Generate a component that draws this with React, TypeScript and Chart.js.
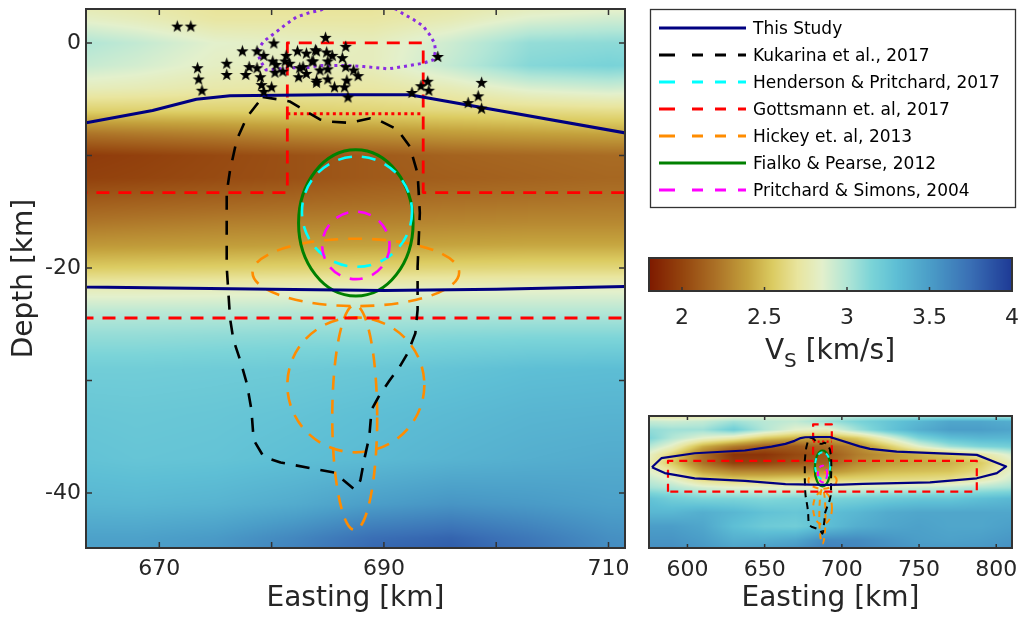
import React, { useEffect, useRef } from 'react';
import { Chart, registerables } from 'chart.js';

Chart.register(...registerables);

const FONT = '"DejaVu Sans", "Liberation Sans", sans-serif';
const TEXT = '#262626';
const FRAME = '#333333';

// ---------- axes ----------
const depthLimits = [-44.9, 3.02];
const mainEastingLimits = [663.47, 711.47];
const mainEastingTicks = [670, 680, 690, 700, 710];
const mainEastingLabels = [670, 690, 710];
const mainDepthTicks = [0, -10, -20, -30, -40];
const mainDepthLabels = [0, -20, -40];
const insetEastingLimits = [575.1, 810.2];
const insetEastingTicks = [600, 650, 700, 750, 800];
const vsLimits = [1.8, 4.0];
const vsTicks = [2, 2.5, 3, 3.5, 4];

// ---------- Vs colour scale (km/s) ----------
const vsStops = [1.8, 2.0, 2.2, 2.4, 2.55, 2.7, 2.85, 3.0, 3.15, 3.3, 3.5, 3.75, 4.0];
const vsColors = ['#7e1a00', '#94440e', '#ab7026', '#c4a23d', '#dccc62', '#e9e59e', '#e3f0cc',
  '#b2e6d6', '#7bd4d8', '#5ebfd5', '#4b9ec8', '#3a6fb5', '#1e3a96'];

// ---------- Vs model, zoomed section (rows = depth, cols = easting) ----------
const mainVsEastings = [662, 668, 675, 682, 689, 696, 703, 710, 713];
const mainVsDepths = [4, 2, 0, -2, -4, -6, -8, -10, -12, -14, -16, -18, -20, -22, -24, -26, -29, -33, -37, -41, -44, -47];
const mainVs = [
  [2.72, 2.70, 2.66, 2.66, 2.66, 2.68, 2.72, 2.75, 2.75],
  [2.85, 2.80, 2.72, 2.72, 2.72, 2.78, 2.88, 2.92, 2.92],
  [3.02, 2.95, 2.85, 2.82, 2.80, 2.92, 3.08, 3.10, 3.10],
  [2.95, 2.90, 2.82, 2.80, 2.80, 2.95, 3.12, 3.16, 3.14],
  [2.80, 2.78, 2.74, 2.72, 2.72, 2.78, 2.88, 2.92, 2.90],
  [2.58, 2.58, 2.58, 2.58, 2.60, 2.62, 2.64, 2.66, 2.66],
  [2.22, 2.25, 2.28, 2.32, 2.35, 2.38, 2.40, 2.42, 2.42],
  [1.95, 1.98, 2.02, 2.06, 2.10, 2.14, 2.16, 2.18, 2.18],
  [1.98, 2.00, 2.03, 2.06, 2.10, 2.12, 2.14, 2.16, 2.16],
  [2.10, 2.12, 2.14, 2.16, 2.18, 2.20, 2.21, 2.22, 2.22],
  [2.22, 2.24, 2.26, 2.27, 2.28, 2.29, 2.30, 2.30, 2.30],
  [2.36, 2.37, 2.38, 2.39, 2.40, 2.41, 2.42, 2.42, 2.42],
  [2.55, 2.56, 2.57, 2.58, 2.59, 2.60, 2.61, 2.61, 2.61],
  [2.80, 2.80, 2.81, 2.82, 2.83, 2.84, 2.84, 2.84, 2.84],
  [2.98, 2.98, 2.98, 2.99, 3.00, 3.00, 3.00, 3.00, 3.00],
  [3.08, 3.08, 3.09, 3.10, 3.10, 3.12, 3.13, 3.13, 3.13],
  [3.20, 3.20, 3.21, 3.22, 3.24, 3.27, 3.30, 3.31, 3.31],
  [3.25, 3.24, 3.25, 3.27, 3.30, 3.33, 3.36, 3.37, 3.37],
  [3.28, 3.26, 3.27, 3.30, 3.33, 3.37, 3.40, 3.42, 3.42],
  [3.36, 3.35, 3.37, 3.42, 3.50, 3.55, 3.52, 3.48, 3.48],
  [3.48, 3.48, 3.52, 3.62, 3.75, 3.80, 3.70, 3.58, 3.56],
  [3.52, 3.52, 3.58, 3.70, 3.85, 3.90, 3.78, 3.62, 3.60],
];

// ---------- Vs model, regional section ----------
const insetVsEastings = [570, 590, 610, 630, 650, 670, 690, 710, 730, 750, 770, 790, 815];
const insetVsDepths = [4, 1, -2, -5, -8, -11, -14, -17, -20, -23, -27, -32, -37, -42, -47];
const insetVs = [
  [2.62, 2.62, 2.64, 2.70, 2.78, 2.82, 2.86, 2.88, 2.85, 2.80, 2.78, 2.76, 2.76],
  [2.95, 2.92, 2.95, 3.05, 2.98, 2.95, 3.05, 3.15, 3.25, 3.35, 3.45, 3.45, 3.40],
  [3.10, 3.05, 3.05, 3.20, 3.00, 2.85, 2.80, 3.05, 3.25, 3.40, 3.50, 3.50, 3.45],
  [3.20, 3.00, 2.85, 2.75, 2.55, 2.45, 2.40, 2.55, 2.85, 3.15, 3.30, 3.35, 3.35],
  [3.05, 2.82, 2.45, 2.25, 2.12, 2.10, 2.18, 2.30, 2.55, 2.85, 3.05, 3.15, 3.20],
  [2.90, 2.60, 2.20, 1.92, 1.92, 2.02, 2.08, 2.25, 2.35, 2.45, 2.55, 2.70, 2.95],
  [2.85, 2.55, 2.20, 1.98, 2.00, 2.08, 2.12, 2.30, 2.38, 2.42, 2.45, 2.55, 2.85],
  [2.90, 2.70, 2.40, 2.28, 2.28, 2.30, 2.32, 2.42, 2.48, 2.50, 2.52, 2.62, 2.90],
  [2.98, 2.85, 2.62, 2.55, 2.55, 2.58, 2.58, 2.60, 2.62, 2.64, 2.66, 2.75, 2.95],
  [3.05, 3.00, 2.90, 2.85, 2.85, 2.85, 2.85, 2.88, 2.90, 2.92, 2.95, 3.00, 3.05],
  [3.30, 3.20, 3.15, 3.15, 3.12, 3.15, 3.15, 3.18, 3.22, 3.25, 3.25, 3.30, 3.35],
  [3.35, 3.35, 3.40, 3.35, 3.28, 3.25, 3.30, 3.35, 3.42, 3.45, 3.45, 3.45, 3.45],
  [3.50, 3.50, 3.45, 3.30, 3.22, 3.20, 3.30, 3.40, 3.45, 3.48, 3.45, 3.45, 3.50],
  [3.55, 3.55, 3.50, 3.40, 3.40, 3.45, 3.60, 3.60, 3.55, 3.50, 3.48, 3.50, 3.55],
  [3.60, 3.60, 3.55, 3.50, 3.55, 3.60, 3.70, 3.65, 3.60, 3.55, 3.55, 3.55, 3.60],
];

// ---------- outlines: [easting km, depth km] ----------
const thisStudyOutline: number[][] = [
  [577.0, -15.6], [583.1, -12.3], [604.7, -10.5], [637.2, -9.5], [654.5, -8.1], [663.5, -7.1],
  [669.4, -6.0], [673.3, -5.0], [676.3, -4.7], [685.0, -4.6], [692.3, -4.6], [711.5, -8.0],
  [718.2, -8.9], [735.5, -9.9], [787.4, -11.1], [806.4, -15.3], [800.4, -17.7], [787.4, -19.6],
  [757.1, -21.1], [713.8, -21.6], [700.0, -21.9], [690.0, -22.0], [680.0, -21.9], [663.5, -21.7],
  [637.2, -20.5], [604.7, -19.6], [585.3, -17.7], [577.0, -15.6],
];

const kukarinaOutline: number[][] = [
  [679.2, -4.8], [680.5, -5.0], [681.6, -5.2], [684.3, -6.8], [685.2, -7.0], [687.0, -7.1],
  [688.8, -6.7], [689.6, -6.9], [691.2, -7.7], [692.3, -9.2], [693.0, -11.6], [693.2, -15.1],
  [693.0, -19.9], [693.0, -23.7], [692.8, -25.8], [692.1, -27.6], [691.4, -28.8], [690.5, -30.0],
  [689.5, -31.5], [688.9, -32.6], [688.7, -35.0], [688.3, -36.8], [687.9, -38.9], [687.4, -39.7],
  [685.6, -38.2], [680.8, -37.3], [679.3, -36.8], [678.4, -35.3], [678.2, -32.6], [677.8, -30.3],
  [677.2, -28.2], [676.6, -26.4], [676.3, -24.5], [676.0, -19.9], [676.0, -13.3], [676.3, -11.3],
  [676.9, -8.6], [677.8, -6.6], [679.2, -4.8],
];

const gottsmannOutline: number[][] = [
  [587.4, -24.45], [587.4, -13.3], [681.4, -13.3], [681.4, 0], [693.5, 0],
  [693.5, -13.3], [787.4, -13.3], [787.4, -24.45], [587.4, -24.45],
];
const gottsmannInnerBound: number[][] = [[681.4, -6.3], [693.5, -6.3]];

const swarmOutline: number[][] = [
  [678.7, -0.7], [679.3, 0.15], [680.3, 0.9], [681.2, 1.6], [682.2, 2.3], [683.4, 2.7],
  [684.3, 2.9], [685.5, 3.4], [687.5, 3.7], [689.5, 3.5], [691.1, 3.0], [691.7, 2.6],
  [692.6, 2.1], [693.5, 1.5], [694.1, 0.7], [694.5, 0.0], [694.6, -0.7], [694.4, -1.5],
  [693.5, -1.8], [692.3, -2.0], [691.1, -2.2], [690.4, -2.3], [689.3, -2.2], [688.2, -2.1],
  [686.7, -2.0], [684.3, -2.0], [683.1, -2.2], [681.9, -2.2], [680.7, -2.3], [679.5, -2.4],
  [679.0, -1.6], [678.7, -0.7],
];

// ---------- earthquake hypocentres ----------
const earthquakes: number[][] = [
  [671.6, 1.5], [672.8, 1.5], [673.4, -2.2], [673.5, -3.2], [673.8, -4.2], [676.0, -1.8],
  [676.0, -2.8], [677.4, -0.7], [678.0, -2.1], [677.7, -2.8], [678.7, -0.7], [678.7, -2.2],
  [679.0, -3.0], [679.1, -3.7], [679.3, -4.3], [680.0, -3.9], [680.2, 0.0], [679.3, -1.1],
  [680.1, -1.6], [680.4, -1.9], [680.3, -2.6], [681.0, -2.5], [681.3, -1.1], [681.2, -1.6],
  [681.6, -1.8], [682.3, -0.7], [683.1, -0.9], [683.9, -0.6], [682.5, -2.2], [683.1, -2.7],
  [682.4, -3.0], [683.7, -1.6], [684.0, -3.3], [684.8, 0.5], [686.6, -0.3], [684.0, -0.7],
  [684.9, -0.8], [685.4, -1.1], [683.6, -1.6], [685.0, -1.6], [686.3, -1.3], [682.8, -2.1],
  [684.3, -2.4], [685.0, -2.3], [686.6, -2.1], [687.3, -2.4], [687.7, -2.9], [684.0, -3.5],
  [685.0, -3.2], [685.6, -3.9], [686.7, -3.3], [686.5, -3.9], [686.8, -4.8], [694.8, -1.2],
  [692.5, -4.4], [693.3, -3.8], [693.9, -3.4], [694.0, -4.2], [698.7, -3.5], [698.4, -4.7],
  [697.5, -5.3], [698.7, -5.8],
];

// ---------- source bodies: [easting centre, depth centre, half-width, half-height] km ----------
const hendersonEllipse = [687.6, -15.0, 4.9, 4.9];
const fialkoEllipse = [687.5, -16.0, 5.1, 6.5];
const pritchardEllipse = [687.5, -18.0, 3.0, 3.0];
const hickeyEllipses = [
  [687.5, -20.4, 9.2, 3.0],
  [687.5, -30.4, 6.1, 6.0],
  [687.4, -33.3, 2.0, 10.0],
];

const seriesNames = [
  'This Study',
  'Kukarina et al., 2017',
  'Henderson & Pritchard, 2017',
  'Gottsmann et. al, 2017',
  'Hickey et. al, 2013',
  'Fialko & Pearse, 2012',
  'Pritchard & Simons, 2004',
];

const NAVY = '#000080';
const RED = '#ff0000';
const ORANGE = '#ff8c00';
const GREEN = '#008000';
const CYAN = '#00ffff';
const MAGENTA = '#ff00ff';
const PURPLE = '#8a2be2';
const LEGEND_DASH = '16 17 11 12 11 12 8';
const legendStyles = [
  { color: NAVY, dash: '' },
  { color: '#000000', dash: LEGEND_DASH },
  { color: CYAN, dash: LEGEND_DASH },
  { color: RED, dash: LEGEND_DASH },
  { color: ORANGE, dash: LEGEND_DASH },
  { color: GREEN, dash: '' },
  { color: MAGENTA, dash: LEGEND_DASH },
];

// ---------- helpers ----------
const vsRgb = vsColors.map((h) => {
  const n = parseInt(h.slice(1), 16);
  return [(n >> 16) & 255, (n >> 8) & 255, n & 255];
});

function vsColor(v: number): number[] {
  if (v <= vsStops[0]) return vsRgb[0];
  for (let i = 0; i < vsStops.length - 1; i++) {
    if (v <= vsStops[i + 1]) {
      const t = (v - vsStops[i]) / (vsStops[i + 1] - vsStops[i]);
      const a = vsRgb[i], b = vsRgb[i + 1];
      return [a[0] + (b[0] - a[0]) * t, a[1] + (b[1] - a[1]) * t, a[2] + (b[2] - a[2]) * t];
    }
  }
  return vsRgb[vsRgb.length - 1];
}

function locate(axis: number[], v: number): [number, number] {
  const n = axis.length;
  const asc = axis[n - 1] > axis[0];
  for (let i = 0; i < n - 1; i++) {
    const a = axis[i], b = axis[i + 1];
    if (asc ? v <= b : v >= b) {
      const t = (v - a) / (b - a);
      return [i, Math.min(1, Math.max(0, t))];
    }
  }
  return [n - 2, 1];
}

function makeStar(): HTMLCanvasElement {
  const size = 15;
  const c = document.createElement('canvas');
  c.width = size;
  c.height = size;
  const g = c.getContext('2d')!;
  const R = 6.5, r = 2.6, cx = size / 2, cy = size / 2 + 0.6;
  g.fillStyle = '#000';
  g.beginPath();
  for (let k = 0; k < 10; k++) {
    const ang = -Math.PI / 2 + (k * Math.PI) / 5;
    const rad = k % 2 === 0 ? R : r;
    const x = cx + rad * Math.cos(ang), y = cy + rad * Math.sin(ang);
    if (k === 0) g.moveTo(x, y); else g.lineTo(x, y);
  }
  g.closePath();
  g.fill();
  return c;
}

function outline(label: string, pts: number[][], color: string, width: number, dash: number[], order: number) {
  return {
    label,
    data: pts.map(([x, y]) => ({ x, y })),
    showLine: true,
    borderColor: color,
    backgroundColor: color,
    borderWidth: width,
    borderDash: dash,
    borderCapStyle: 'butt',
    borderJoinStyle: 'round',
    pointRadius: 0,
    fill: false,
    tension: 0,
    order,
  };
}

// Smooth Vs field painted under the datasets
function fieldPlugin(eastings: number[], depths: number[], grid: number[][]) {
  return {
    id: 'vsField',
    beforeDatasetsDraw(chart: any) {
      const { ctx, chartArea: a, scales } = chart;
      const w = Math.round(a.right - a.left), h = Math.round(a.bottom - a.top);
      const off = document.createElement('canvas');
      off.width = w;
      off.height = h;
      const octx = off.getContext('2d')!;
      const img = octx.createImageData(w, h);
      const cols = [];
      for (let px = 0; px < w; px++) cols.push(locate(eastings, scales.x.getValueForPixel(a.left + px + 0.5)));
      for (let py = 0; py < h; py++) {
        const [j, ty] = locate(depths, scales.y.getValueForPixel(a.top + py + 0.5));
        const r0 = grid[j], r1 = grid[j + 1];
        for (let px = 0; px < w; px++) {
          const [i, tx] = cols[px];
          const top = r0[i] * (1 - tx) + r0[i + 1] * tx;
          const bot = r1[i] * (1 - tx) + r1[i + 1] * tx;
          const c = vsColor(top * (1 - ty) + bot * ty);
          const k = (py * w + px) * 4;
          img.data[k] = c[0];
          img.data[k + 1] = c[1];
          img.data[k + 2] = c[2];
          img.data[k + 3] = 255;
        }
      }
      octx.putImageData(img, 0, 0);
      ctx.drawImage(off, a.left, a.top);
    },
  };
}

// Elliptical source bodies, placed with the chart's scales
function ellipsePlugin(shapes: { e: number[]; color: string; width: number; dash: number[] }[]) {
  return {
    id: 'sourceEllipses',
    beforeDatasetsDraw(chart: any) {
      const { ctx, chartArea: a, scales } = chart;
      ctx.save();
      ctx.beginPath();
      ctx.rect(a.left, a.top, a.right - a.left, a.bottom - a.top);
      ctx.clip();
      for (const s of shapes) {
        const [cx, cy, rx, ry] = s.e;
        const px = scales.x.getPixelForValue(cx);
        const py = scales.y.getPixelForValue(cy);
        const prx = Math.abs(scales.x.getPixelForValue(cx + rx) - px);
        const pry = Math.abs(scales.y.getPixelForValue(cy + ry) - py);
        ctx.beginPath();
        ctx.ellipse(px, py, prx, pry, 0, 0, Math.PI * 2);
        ctx.strokeStyle = s.color;
        ctx.lineWidth = s.width;
        ctx.setLineDash(s.dash);
        ctx.lineCap = 'butt';
        ctx.stroke();
      }
      ctx.restore();
    },
  };
}

// Box frame with inward tick marks
function framePlugin(o: { xTicks: number[]; yTicks: number[]; xSides: string[]; ySides: string[]; len: number }) {
  return {
    id: 'boxFrame',
    afterDraw(chart: any) {
      const { ctx, chartArea: a, scales } = chart;
      ctx.save();
      ctx.strokeStyle = FRAME;
      ctx.setLineDash([]);
      ctx.lineWidth = 1.5;
      ctx.beginPath();
      for (const v of o.xTicks) {
        const x = scales.x.getPixelForValue(v);
        if (o.xSides.includes('bottom')) { ctx.moveTo(x, a.bottom); ctx.lineTo(x, a.bottom - o.len); }
        if (o.xSides.includes('top')) { ctx.moveTo(x, a.top); ctx.lineTo(x, a.top + o.len); }
      }
      for (const v of o.yTicks) {
        const y = scales.y.getPixelForValue(v);
        if (o.ySides.includes('left')) { ctx.moveTo(a.left, y); ctx.lineTo(a.left + o.len, y); }
        if (o.ySides.includes('right')) { ctx.moveTo(a.right, y); ctx.lineTo(a.right - o.len, y); }
      }
      ctx.stroke();
      ctx.lineWidth = 2;
      ctx.strokeRect(a.left, a.top, a.right - a.left, a.bottom - a.top);
      ctx.restore();
    },
  };
}

function colorbarPlugin() {
  return {
    id: 'vsColorbar',
    beforeDatasetsDraw(chart: any) {
      const { ctx, chartArea: a, scales } = chart;
      for (let px = Math.floor(a.left); px < Math.ceil(a.right); px++) {
        const c = vsColor(scales.x.getValueForPixel(px + 0.5));
        ctx.fillStyle = `rgb(${c[0] | 0},${c[1] | 0},${c[2] | 0})`;
        ctx.fillRect(px, a.top, 1, a.bottom - a.top);
      }
    },
  };
}

const tickFont = { family: FONT, size: 22 };
const titleFont = { family: FONT, size: 28 };

function hAxis(limits: number[], ticks: number[], labels: number[], height: number, tickPad: number, title: string | null, titlePad: number) {
  return {
    type: 'linear',
    position: 'bottom',
    min: limits[0],
    max: limits[1],
    grid: { display: false, drawTicks: false },
    border: { display: false },
    afterBuildTicks: (s: any) => { s.ticks = ticks.map((value) => ({ value })); },
    afterFit: (s: any) => { s.height = height; s.paddingLeft = 0; s.paddingRight = 0; },
    ticks: {
      autoSkip: false,
      maxRotation: 0,
      minRotation: 0,
      padding: tickPad,
      color: TEXT,
      font: tickFont,
      callback: (v: number) => (labels.includes(v) ? String(v) : ''),
    },
    title: title
      ? { display: true, text: title, color: TEXT, font: titleFont, padding: { top: 0, bottom: titlePad } }
      : { display: false },
  };
}

const baseOptions = {
  responsive: false,
  animation: false,
  devicePixelRatio: 1,
  events: [],
  plugins: { legend: { display: false }, tooltip: { enabled: false } },
};

function mainConfig(star: HTMLCanvasElement) {
  return {
    type: 'scatter',
    data: {
      datasets: [
        {
          label: 'Earthquakes',
          data: earthquakes.map(([x, y]) => ({ x, y })),
          pointStyle: star,
          pointRadius: 6,
          order: 0,
        },
        outline(seriesNames[0], thisStudyOutline, NAVY, 3, [], 1),
        outline(seriesNames[1], kukarinaOutline, '#000000', 2.6, [14, 11], 2),
        outline(seriesNames[3], gottsmannOutline, RED, 2.8, [13, 9], 3),
        outline(seriesNames[3] + ' (top)', gottsmannInnerBound, RED, 3, [3, 3.5], 3),
        outline('Seismic swarm', swarmOutline, PURPLE, 3, [3, 4], 4),
      ],
    },
    options: {
      ...baseOptions,
      layout: { padding: { left: 0, top: 9, right: 15, bottom: 0 } },
      scales: {
        x: hAxis(mainEastingLimits, mainEastingTicks, mainEastingLabels, 69, 8, 'Easting [km]', 1),
        y: {
          type: 'linear',
          min: depthLimits[0],
          max: depthLimits[1],
          grid: { display: false, drawTicks: false },
          border: { display: false },
          afterBuildTicks: (s: any) => { s.ticks = mainDepthTicks.map((value) => ({ value })); },
          afterFit: (s: any) => { s.width = 86; s.paddingTop = 0; s.paddingBottom = 0; },
          ticks: {
            autoSkip: false,
            padding: 5,
            color: TEXT,
            font: tickFont,
            callback: (v: number) => (mainDepthLabels.includes(v) ? String(v) : ''),
          },
          title: { display: true, text: 'Depth [km]', color: TEXT, font: titleFont, padding: { top: 8, bottom: 0 } },
        },
      },
    },
    plugins: [
      fieldPlugin(mainVsEastings, mainVsDepths, mainVs),
      ellipsePlugin([
        ...hickeyEllipses.map((e) => ({ e, color: ORANGE, width: 2.6, dash: [14, 10] })),
        { e: fialkoEllipse, color: GREEN, width: 3, dash: [] },
        { e: hendersonEllipse, color: CYAN, width: 2.6, dash: [14, 10] },
        { e: pritchardEllipse, color: MAGENTA, width: 2.6, dash: [13, 10] },
      ]),
      framePlugin({ xTicks: mainEastingTicks, yTicks: mainDepthTicks, xSides: ['top', 'bottom'], ySides: ['left', 'right'], len: 6 }),
    ],
  };
}

function insetConfig() {
  return {
    type: 'scatter',
    data: {
      datasets: [
        outline(seriesNames[0], thisStudyOutline, NAVY, 2.2, [], 1),
        outline(seriesNames[1], kukarinaOutline, '#000000', 2, [7, 5], 2),
        outline(seriesNames[3], gottsmannOutline, RED, 2.2, [8, 6], 3),
        outline(seriesNames[3] + ' (top)', gottsmannInnerBound, RED, 2.2, [2, 2.5], 3),
      ],
    },
    options: {
      ...baseOptions,
      layout: { padding: { left: 9, top: 16, right: 7, bottom: 0 } },
      scales: {
        x: hAxis(insetEastingLimits, insetEastingTicks, insetEastingTicks, 69, 9, 'Easting [km]', 1),
        y: { type: 'linear', display: false, min: depthLimits[0], max: depthLimits[1] },
      },
    },
    plugins: [
      fieldPlugin(insetVsEastings, insetVsDepths, insetVs),
      ellipsePlugin([
        ...hickeyEllipses.map((e) => ({ e, color: ORANGE, width: 2, dash: [6, 5] })),
        { e: fialkoEllipse, color: GREEN, width: 2.2, dash: [] },
        { e: hendersonEllipse, color: CYAN, width: 2, dash: [5, 4] },
        { e: pritchardEllipse, color: MAGENTA, width: 2, dash: [5, 4] },
      ]),
      framePlugin({ xTicks: insetEastingTicks, yTicks: [], xSides: ['top', 'bottom'], ySides: [], len: 4 }),
    ],
  };
}

function colorbarConfig() {
  return {
    type: 'scatter',
    data: { datasets: [] },
    options: {
      ...baseOptions,
      layout: { padding: { left: 9, top: 18, right: 7, bottom: 0 } },
      scales: {
        x: hAxis(vsLimits, vsTicks, vsTicks, 79, 14, null, 0),
        y: { type: 'linear', display: false, min: 0, max: 1 },
      },
    },
    plugins: [
      colorbarPlugin(),
      framePlugin({ xTicks: vsTicks, yTicks: [], xSides: ['bottom'], ySides: [], len: 4 }),
    ],
  };
}

export default function App() {
  const mainRef = useRef<HTMLCanvasElement>(null);
  const insetRef = useRef<HTMLCanvasElement>(null);
  const barRef = useRef<HTMLCanvasElement>(null);

  useEffect(() => {
    const star = makeStar();
    const charts = [
      new Chart(mainRef.current!, mainConfig(star) as any),
      new Chart(barRef.current!, colorbarConfig() as any),
      new Chart(insetRef.current!, insetConfig() as any),
    ];
    return () => charts.forEach((c) => c.destroy());
  }, []);

  const rowY = (i: number) => 28 + i * 27;

  return (
    <div style={{ position: 'fixed', left: 0, top: 0, width: 1019, height: 617, background: '#ffffff', overflow: 'hidden' }}>
      <canvas ref={mainRef} width={640} height={617} style={{ position: 'absolute', left: 0, top: 0 }} />
      <canvas ref={barRef} width={379} height={130} style={{ position: 'absolute', left: 640, top: 240 }} />
      <canvas ref={insetRef} width={379} height={217} style={{ position: 'absolute', left: 640, top: 400 }} />
      <svg width={1019} height={617} style={{ position: 'absolute', left: 0, top: 0, pointerEvents: 'none' }}>
        <rect x={650.5} y={9.5} width={365} height={198} fill="#ffffff" stroke={FRAME} strokeWidth={1.3} />
        {seriesNames.map((name, i) => (
          <g key={name}>
            <line
              x1={659}
              x2={746}
              y1={rowY(i)}
              y2={rowY(i)}
              stroke={legendStyles[i].color}
              strokeWidth={3}
              strokeDasharray={legendStyles[i].dash || undefined}
            />
            <text x={753} y={rowY(i)} dominantBaseline="central" fontFamily={FONT} fontSize={17} fill="#000000">
              {name}
            </text>
          </g>
        ))}
        <text x={830} y={359} textAnchor="middle" fontFamily={FONT} fontSize={28} fill={TEXT}>
          V<tspan dy={8} fontSize={20}>S</tspan>
          <tspan dy={-8}> [km/s]</tspan>
        </text>
      </svg>
    </div>
  );
}
